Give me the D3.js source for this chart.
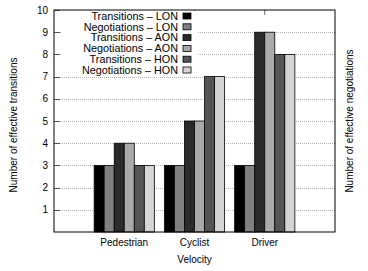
<!DOCTYPE html>
<html>
<head>
<meta charset="utf-8">
<script src="https://cdn.jsdelivr.net/npm/d3@7"></script>
<style>
  body { margin: 0; background: #fff; }
  text { font-family: "Liberation Sans", Arial, sans-serif; font-size: 10px; fill: #000; }
  .legend text { font-size: 10.8px; }
</style>
</head>
<body>
<svg id="chart" width="368" height="271"></svg>
<script>
// -- data --
const categories = ["Pedestrian", "Cyclist", "Driver"];
const series = ["Transitions – LON", "Negotiations – LON", "Transitions – AON",
  "Negotiations – AON", "Transitions – HON", "Negotiations – HON"];
const transLON = [3, 3, 3];
const negoLON = [3, 3, 3];
const transAON = [4, 5, 9];
const negoAON = [4, 5, 9];
const transHON = [3, 7, 8];
const negoHON = [3, 7, 8];
const yTicks = [1, 2, 3, 4, 5, 6, 7, 8, 9, 10];

const values = [transLON, negoLON, transAON, negoAON, transHON, negoHON];
const colors = ["#000000", "#808080", "#2b2b2b", "#aaaaaa", "#555555", "#d4d4d4"];

const svg = d3.select("#chart");
const pLeft = 54, pRight = 335, pTop = 10, pBottom = 232;

// x in "gnuplot" units: categories at 0,1,2 ; range -1..3
const x = d3.scaleLinear().domain([-1, 3]).range([pLeft, pRight]);
const y = d3.scaleLinear().domain([0, 10]).range([pBottom, pTop]);
const barW = (x(1) - x(0)) / 7;

// -- grid --
svg.append("g").selectAll("line")
  .data(yTicks.slice(0, -1))
  .enter().append("line")
  .attr("x1", pLeft).attr("x2", pRight)
  .attr("y1", d => Math.round(y(d)) + 0.5).attr("y2", d => Math.round(y(d)) + 0.5)
  .attr("stroke", "#a0a0a0").attr("stroke-width", 0.8)
  .attr("stroke-dasharray", "1,1");

// left ticks
svg.append("g").selectAll("line")
  .data(yTicks)
  .enter().append("line")
  .attr("x1", pLeft).attr("x2", pLeft + 6)
  .attr("y1", d => Math.round(y(d)) + 0.5).attr("y2", d => Math.round(y(d)) + 0.5)
  .attr("stroke", "#000").attr("stroke-width", 0.6);

// top x ticks
svg.append("g").selectAll("line")
  .data(categories)
  .enter().append("line")
  .attr("x1", (d, i) => x(i)).attr("x2", (d, i) => x(i))
  .attr("y1", pTop).attr("y2", pTop + 5)
  .attr("stroke", "#000").attr("stroke-width", 0.6);

// -- bars --
const groups = svg.append("g").selectAll("g")
  .data(values)
  .enter().append("g")
  .attr("fill", (d, i) => colors[i]);

groups.selectAll("rect")
  .data((d, si) => d.map((v, ci) => ({ v, ci, si })))
  .enter().append("rect")
  .attr("x", d => x(d.ci) + (d.si - 3) * barW)
  .attr("y", d => y(d.v))
  .attr("width", barW)
  .attr("height", d => y(0) - y(d.v))
  .attr("stroke", "#000").attr("stroke-width", 0.8);

// -- legend --
svg.append("rect")
  .attr("x", 62).attr("y", pTop + 1).attr("width", 135).attr("height", 64)
  .attr("fill", "#fff");

const legend = svg.append("g").attr("class", "legend").selectAll("g")
  .data(series)
  .enter().append("g")
  .attr("transform", (d, i) => `translate(0, ${16 + i * 10.8})`);

legend.append("text")
  .attr("x", 178).attr("y", 0).attr("dy", "0.35em")
  .attr("text-anchor", "end")
  .text(d => d);

legend.append("rect")
  .attr("x", 183).attr("y", -3).attr("width", 8).attr("height", 6)
  .attr("fill", (d, i) => colors[i])
  .attr("stroke", "#000").attr("stroke-width", 0.8);

// -- frame --
svg.append("rect")
  .attr("x", pLeft).attr("y", pTop).attr("width", pRight - pLeft).attr("height", pBottom - pTop)
  .attr("fill", "none").attr("stroke", "#000").attr("stroke-width", 1);

// -- tick labels --
svg.append("g").selectAll("text")
  .data(yTicks)
  .enter().append("text")
  .attr("x", 48).attr("y", d => y(d)).attr("dy", "0.35em")
  .attr("text-anchor", "end")
  .text(d => d);

svg.append("g").selectAll("text")
  .data(categories)
  .enter().append("text")
  .attr("x", (d, i) => x(i)).attr("y", 246)
  .attr("text-anchor", "middle")
  .text(d => d);

svg.append("text")
  .attr("x", (pLeft + pRight) / 2).attr("y", 263)
  .attr("text-anchor", "middle")
  .text("Velocity");

svg.append("text")
  .attr("transform", `translate(17, ${(pTop + pBottom) / 2 + 4}) rotate(-90)`)
  .attr("text-anchor", "middle")
  .text("Number of effective transitions");

svg.append("text")
  .attr("transform", `translate(353, ${(pTop + pBottom) / 2}) rotate(-90)`)
  .attr("text-anchor", "middle")
  .text("Number of effective negotiations");
</script>
</body>
</html>
